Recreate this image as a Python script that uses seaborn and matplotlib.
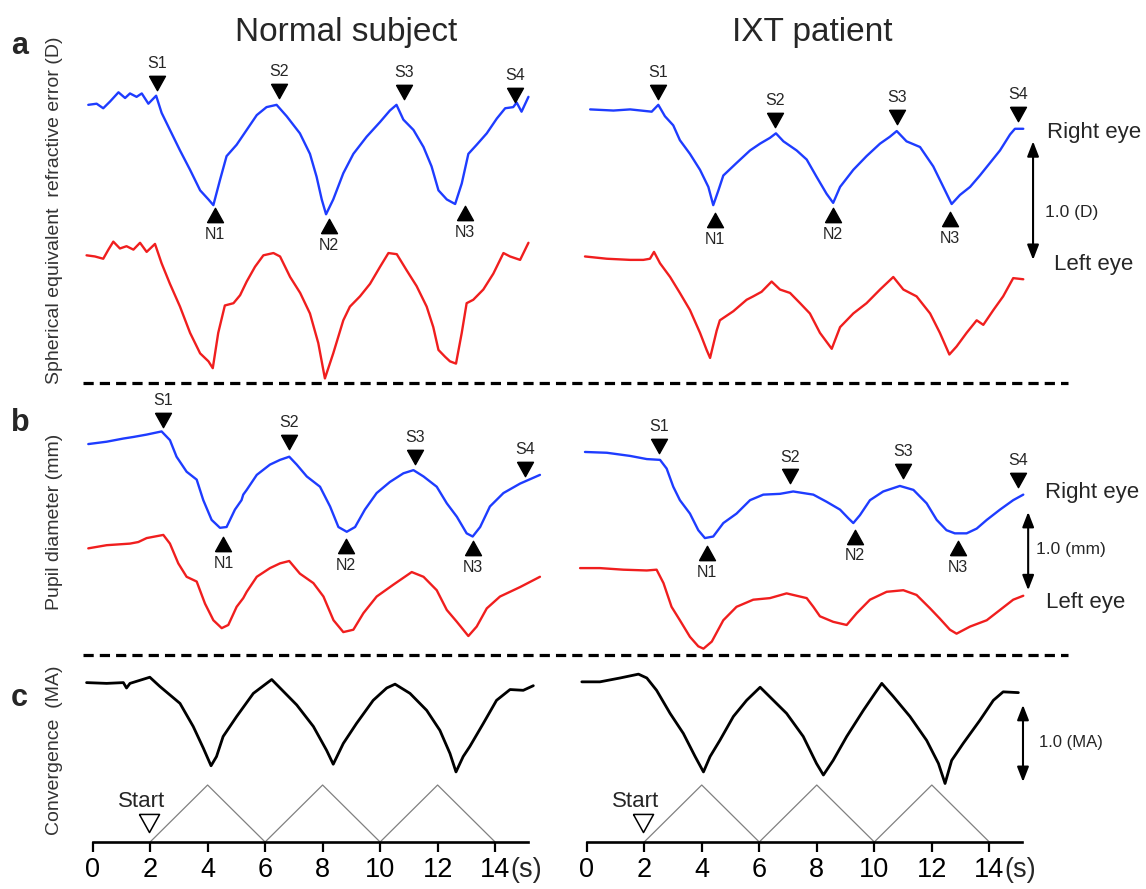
import matplotlib
matplotlib.use("Agg")
import matplotlib.pyplot as plt
import seaborn as sns
from matplotlib.lines import Line2D

# ---------------- data (time in s, values in D / mm / MA) ----------------
# Panel a: spherical equivalent refractive error (D)
a_nor_R_t = [-0.15, 0.14, 0.37, 0.61, 0.90, 1.13, 1.30, 1.53, 1.71, 1.94, 2.21, 2.40, 2.69, 3.04, 3.39,
             3.74, 4.03, 4.20, 4.43, 4.66, 5.01, 5.36, 5.71, 6.05, 6.40, 6.75, 7.21, 7.56, 7.79, 7.97,
             8.12, 8.37, 8.72, 9.07, 9.53, 10.0, 10.34, 10.57, 10.81, 11.16, 11.51, 11.79, 12.03, 12.32, 12.61,
             12.84, 13.07, 13.36, 13.71, 14.06, 14.35, 14.63, 14.75, 14.92, 15.16]
a_nor_R_v = [2.44, 2.45, 2.41, 2.47, 2.55, 2.50, 2.54, 2.51, 2.54, 2.45, 2.52, 2.37, 2.22, 2.04, 1.87,
             1.69, 1.61, 1.56, 1.78, 1.99, 2.09, 2.22, 2.35, 2.42, 2.44, 2.34, 2.19, 2.01, 1.81, 1.61,
             1.48, 1.61, 1.84, 2.01, 2.16, 2.29, 2.39, 2.44, 2.31, 2.22, 2.07, 1.90, 1.69, 1.61, 1.57,
             1.75, 2.01, 2.09, 2.19, 2.32, 2.41, 2.42, 2.46, 2.38, 2.51]
a_nor_L_t = [-0.21, 0.08, 0.37, 0.55, 0.72, 0.95, 1.18, 1.42, 1.65, 1.88, 2.17, 2.40, 2.69, 3.04, 3.39,
             3.74, 4.03, 4.18, 4.37, 4.60, 4.90, 5.13, 5.36, 5.65, 5.94, 6.29, 6.52, 6.87, 7.22, 7.56,
             7.85, 8.08, 8.37, 8.72, 8.95, 9.30, 9.65, 10.0, 10.29, 10.58, 10.92, 11.27, 11.62, 11.85, 12.03,
             12.26, 12.43, 12.64, 12.84, 13.01, 13.24, 13.59, 13.94, 14.29, 14.52, 14.87, 15.16]
a_nor_L_v = [1.12, 1.11, 1.09, 1.17, 1.24, 1.18, 1.20, 1.17, 1.23, 1.15, 1.22, 1.05, 0.87, 0.67, 0.44,
             0.26, 0.19, 0.13, 0.44, 0.68, 0.70, 0.77, 0.89, 1.02, 1.12, 1.14, 1.11, 0.93, 0.79, 0.61,
             0.35, 0.04, 0.26, 0.55, 0.67, 0.76, 0.87, 1.02, 1.14, 1.13, 0.99, 0.85, 0.67, 0.49, 0.29,
             0.23, 0.19, 0.17, 0.44, 0.70, 0.73, 0.82, 0.96, 1.14, 1.11, 1.08, 1.23]
a_ixt_R_t = [0.12, 0.93, 1.51, 2.26, 2.49, 2.72, 3.01, 3.24, 3.59, 3.94, 4.23, 4.40, 4.58, 4.75, 5.21,
             5.68, 6.03, 6.37, 6.58, 6.84, 7.30, 7.65, 7.99, 8.34, 8.57, 8.81, 9.27, 9.73, 10.20, 10.54,
             10.78, 11.12, 11.59, 12.05, 12.40, 12.69, 12.98, 13.33, 13.67, 14.02, 14.37, 14.72, 14.89, 15.18]
a_ixt_R_v = [2.40, 2.39, 2.40, 2.38, 2.44, 2.34, 2.26, 2.13, 2.01, 1.87, 1.72, 1.56, 1.69, 1.82, 1.93,
             2.04, 2.10, 2.15, 2.19, 2.12, 2.04, 1.96, 1.81, 1.66, 1.58, 1.72, 1.87, 1.99, 2.10, 2.16,
             2.21, 2.12, 2.07, 1.90, 1.72, 1.57, 1.65, 1.72, 1.82, 1.93, 2.04, 2.18, 2.23, 2.23]
a_ixt_L_t = [-0.06, 0.70, 1.51, 1.97, 2.20, 2.34, 2.55, 2.90, 3.24, 3.59, 3.94, 4.17, 4.29, 4.52, 4.63,
             5.10, 5.56, 5.79, 6.08, 6.43, 6.72, 7.07, 7.42, 7.76, 8.11, 8.52, 8.81, 9.27, 9.73, 10.20,
             10.66, 11.01, 11.47, 11.94, 12.28, 12.61, 12.86, 13.21, 13.56, 13.79, 14.14, 14.48, 14.83, 15.18]
a_ixt_L_v = [1.11, 1.09, 1.08, 1.08, 1.09, 1.15, 1.05, 0.93, 0.79, 0.64, 0.44, 0.29, 0.22, 0.46, 0.55,
             0.63, 0.73, 0.76, 0.80, 0.89, 0.82, 0.79, 0.70, 0.61, 0.44, 0.30, 0.49, 0.61, 0.70, 0.82,
             0.93, 0.82, 0.76, 0.61, 0.44, 0.25, 0.32, 0.44, 0.55, 0.51, 0.64, 0.76, 0.92, 0.91]

# Panel b: pupil diameter (mm)
b_nor_R_t = [-0.15, 0.49, 1.07, 1.42, 1.88, 2.40, 2.69, 2.92, 3.27, 3.62, 3.85, 4.14, 4.43, 4.66, 4.95,
             5.18, 5.24, 5.36, 5.71, 6.17, 6.52, 6.84, 7.10, 7.45, 7.91, 8.26, 8.55, 8.84, 9.13, 9.47,
             9.88, 10.34, 10.81, 11.16, 11.51, 11.97, 12.32, 12.67, 13.01, 13.22, 13.48, 13.82, 14.29, 14.87, 15.56]
b_nor_R_v = [2.67, 2.70, 2.74, 2.76, 2.79, 2.83, 2.72, 2.51, 2.32, 2.22, 1.96, 1.71, 1.61, 1.62, 1.84,
             1.96, 2.03, 2.09, 2.28, 2.41, 2.47, 2.51, 2.41, 2.26, 2.13, 1.88, 1.62, 1.56, 1.62, 1.84,
             2.05, 2.19, 2.30, 2.34, 2.26, 2.13, 1.92, 1.75, 1.54, 1.50, 1.62, 1.88, 2.05, 2.17, 2.28]
b_nor_L_t = [-0.15, 0.49, 1.30, 1.59, 1.88, 2.46, 2.69, 2.98, 3.27, 3.62, 3.91, 4.20, 4.49, 4.72, 5.01,
             5.24, 5.36, 5.71, 6.17, 6.52, 6.84, 7.21, 7.68, 8.03, 8.38, 8.72, 9.07, 9.42, 9.88, 10.46,
             11.10, 11.51, 11.97, 12.32, 12.67, 13.07, 13.36, 13.71, 14.17, 14.87, 15.56]
b_nor_L_v = [1.35, 1.39, 1.41, 1.43, 1.48, 1.52, 1.41, 1.16, 0.99, 0.93, 0.65, 0.44, 0.34, 0.38, 0.61,
             0.72, 0.80, 0.99, 1.10, 1.16, 1.19, 1.03, 0.91, 0.74, 0.44, 0.29, 0.32, 0.53, 0.74, 0.89,
             1.05, 0.99, 0.82, 0.57, 0.42, 0.24, 0.36, 0.59, 0.74, 0.86, 0.99]
b_ixt_R_t = [-0.06, 0.70, 1.51, 2.09, 2.55, 2.78, 3.01, 3.24, 3.59, 3.88, 4.11, 4.40, 4.75, 5.21, 5.68,
             6.14, 6.72, 7.18, 7.88, 8.34, 8.81, 9.10, 9.27, 9.50, 9.85, 10.31, 10.89, 11.36, 11.82, 12.17,
             12.51, 12.80, 13.21, 13.56, 13.91, 14.37, 14.83, 15.18]
b_ixt_R_v = [2.57, 2.56, 2.52, 2.48, 2.47, 2.36, 2.13, 1.96, 1.79, 1.58, 1.48, 1.50, 1.67, 1.79, 1.96,
             2.03, 2.04, 2.07, 2.03, 1.94, 1.84, 1.73, 1.67, 1.77, 1.96, 2.07, 2.14, 2.09, 1.92, 1.71,
             1.58, 1.54, 1.54, 1.60, 1.71, 1.84, 1.96, 2.03]
b_ixt_L_t = [-0.23, 0.46, 1.27, 2.09, 2.43, 2.67, 2.95, 3.24, 3.59, 3.88, 4.06, 4.35, 4.75, 5.21, 5.79,
             6.37, 6.95, 7.65, 7.88, 8.11, 8.57, 9.04, 9.39, 9.85, 10.43, 11.01, 11.47, 11.94, 12.28, 12.63,
             12.86, 13.33, 13.91, 14.37, 14.83, 15.18]
b_ixt_L_v = [1.10, 1.10, 1.08, 1.07, 1.08, 0.91, 0.61, 0.44, 0.23, 0.11, 0.08, 0.17, 0.44, 0.61, 0.70,
             0.72, 0.78, 0.72, 0.61, 0.49, 0.42, 0.38, 0.53, 0.70, 0.80, 0.82, 0.76, 0.59, 0.46, 0.32,
             0.27, 0.36, 0.44, 0.57, 0.70, 0.75]

# Panel c: convergence (MA) and stimulus
c_nor_t = [-0.21, 0.49, 1.07, 1.18, 1.30, 1.99, 2.34, 3.04, 3.50, 3.85, 4.12, 4.31, 4.54, 5.01, 5.59,
           6.05, 6.23, 6.52, 7.10, 7.68, 8.14, 8.37, 8.72, 9.18, 9.76, 10.23, 10.52, 11.04, 11.62, 12.08,
           12.43, 12.64, 12.89, 13.12, 13.59, 14.05, 14.52, 14.98, 15.33]
c_nor_v = [2.07, 2.06, 2.07, 2.00, 2.06, 2.14, 2.02, 1.80, 1.50, 1.22, 0.99, 1.11, 1.37, 1.63, 1.93,
           2.06, 2.11, 2.00, 1.78, 1.50, 1.19, 1.01, 1.28, 1.54, 1.84, 2.00, 2.05, 1.93, 1.71, 1.45,
           1.15, 0.91, 1.11, 1.24, 1.54, 1.84, 1.98, 1.97, 2.03]
c_ixt_t = [-0.17, 0.46, 1.16, 1.80, 2.09, 2.43, 2.90, 3.36, 3.77, 4.06, 4.29, 4.63, 5.10, 5.56, 6.03,
           6.49, 6.95, 7.53, 7.99, 8.23, 8.57, 9.04, 9.62, 10.02, 10.26, 10.66, 11.24, 11.82, 12.23, 12.46,
           12.69, 13.09, 13.67, 14.14, 14.48, 15.01]
c_ixt_v = [2.08, 2.08, 2.13, 2.18, 2.13, 1.97, 1.67, 1.41, 1.11, 0.91, 1.11, 1.32, 1.63, 1.84, 2.01,
           1.84, 1.67, 1.37, 1.02, 0.87, 1.06, 1.37, 1.71, 1.93, 2.06, 1.89, 1.63, 1.32, 1.02, 0.76,
           1.06, 1.28, 1.58, 1.84, 1.95, 1.94]
stim_t = [2, 4, 6, 8, 10, 12, 14]
stim_v = [0, 0.74, 0, 0.74, 0, 0.74, 0]

# S (peak) / N (trough) markers
S_labels = ["S1", "S2", "S3", "S4"]
N_labels = ["N1", "N2", "N3"]
a_nor_S_t = [2.23, 6.49, 10.83, 14.69]; a_nor_S_v = [2.63, 2.56, 2.55, 2.53]
a_nor_N_t = [4.26, 8.23, 12.95];        a_nor_N_v = [1.47, 1.38, 1.49]
a_ixt_S_t = [2.49, 6.55, 10.78, 15.01]; a_ixt_S_v = [2.55, 2.31, 2.33, 2.36]
a_ixt_N_t = [4.46, 8.57, 12.63];        a_ixt_N_v = [1.43, 1.47, 1.44]
b_nor_S_t = [2.44, 6.84, 11.21, 15.04]; b_nor_S_v = [2.98, 2.70, 2.51, 2.36]
b_nor_N_t = [4.55, 8.80, 13.24];        b_nor_N_v = [1.41, 1.38, 1.35]
b_ixt_S_t = [2.53, 7.07, 11.01, 15.01]; b_ixt_S_v = [2.64, 2.26, 2.33, 2.22]
b_ixt_N_t = [4.17, 9.33, 12.92];        b_ixt_N_v = [1.29, 1.50, 1.35]

x_ticks = [0, 2, 4, 6, 8, 10, 12, 14]
start_t = 2.0

# ---------------- style ----------------
sns.set_theme(style="white")
plt.rcParams["font.family"] = ["Liberation Sans", "DejaVu Sans"]

BLUE = "#1e3cff"
RED = "#f01e1e"

W, H = 1146, 889
fig = plt.figure(figsize=(W / 100, H / 100), dpi=100)

L0, LPPS = 92.6, 28.75     # pixel of t=0 and pixels per second, left column
R0, RPPS = 586.7, 28.76    # right column


def make_ax(px_x0, px_x1, px_y0, px_y1):
    ax = fig.add_axes([px_x0 / W, 1 - px_y1 / H, (px_x1 - px_x0) / W, (px_y1 - px_y0) / H])
    ax.set_facecolor("none")
    return ax


def finish(ax, px_x0, px_x1, px_y0, px_y1, t0, pps, ppu):
    ax.set_xlim((px_x0 - t0) / pps, (px_x1 - t0) / pps)
    ax.set_ylim(0, (px_y1 - px_y0) / ppu)
    for s in ax.spines.values():
        s.set_visible(False)
    ax.set_xticks([])
    ax.set_yticks([])
    ax.set_xlabel("")
    ax.set_ylabel("")


def trace(ax, t, v, color, lw):
    sns.lineplot(x=t, y=v, ax=ax, color=color, linewidth=lw, sort=False,
                 estimator=None, legend=False)
    ax.lines[-1].set_clip_on(False)
    ax.lines[-1].set_solid_joinstyle("round")


TRI_DOWN = [(-1, 0.9), (1, 0.9), (0, -0.9), (-1, 0.9)]
TRI_UP = [(-1, -0.9), (1, -0.9), (0, 0.9), (-1, -0.9)]


def marks(ax, St, Sv, Nt, Nv):
    ax.plot(St, Sv, linestyle="none", marker=TRI_DOWN, markersize=11.5, color="black", clip_on=False)
    ax.plot(Nt, Nv, linestyle="none", marker=TRI_UP, markersize=11.5, color="black", clip_on=False)
    for lbl, t, v in zip(S_labels, St, Sv):
        ax.annotate(lbl, (t, v), xytext=(0, 14), textcoords="offset points",
                    ha="center", va="center", fontsize=11.5)
    for lbl, t, v in zip(N_labels, Nt, Nv):
        ax.annotate(lbl, (t, v), xytext=(0, -14), textcoords="offset points",
                    ha="center", va="center", fontsize=11.5)


def scalebar(ax, t, v0, v1):
    ax.annotate("", xy=(t, v1), xytext=(t, v0),
                arrowprops=dict(arrowstyle="<|-|>,head_length=0.9,head_width=0.35",
                                mutation_scale=10, lw=1.5, color="black",
                                shrinkA=0, shrinkB=0))


LX = (80, 560)
RX = (575, 1146)
ROW_A = (40, 383, 114.0)
ROW_B = (390, 655, 79.0)
ROW_C = (660, 842, 77.0)

# ---- row a ----
ax = make_ax(LX[0], LX[1], ROW_A[0], ROW_A[1])
trace(ax, a_nor_R_t, a_nor_R_v, BLUE, 1.7)
trace(ax, a_nor_L_t, a_nor_L_v, RED, 1.7)
marks(ax, a_nor_S_t, a_nor_S_v, a_nor_N_t, a_nor_N_v)
finish(ax, LX[0], LX[1], ROW_A[0], ROW_A[1], L0, LPPS, ROW_A[2])

ax = make_ax(RX[0], RX[1], ROW_A[0], ROW_A[1])
trace(ax, a_ixt_R_t, a_ixt_R_v, BLUE, 1.7)
trace(ax, a_ixt_L_t, a_ixt_L_v, RED, 1.7)
marks(ax, a_ixt_S_t, a_ixt_S_v, a_ixt_N_t, a_ixt_N_v)
scalebar(ax, 15.52, 1.08, 2.12)
ax.text(16.02, 2.20, "Right eye", ha="left", va="center", fontsize=16)
ax.text(15.93, 1.50, "1.0 (D)", ha="left", va="center", fontsize=12.5)
ax.text(16.25, 1.04, "Left eye", ha="left", va="center", fontsize=16)
finish(ax, RX[0], RX[1], ROW_A[0], ROW_A[1], R0, RPPS, ROW_A[2])

# ---- row b ----
ax = make_ax(LX[0], LX[1], ROW_B[0], ROW_B[1])
trace(ax, b_nor_R_t, b_nor_R_v, BLUE, 1.7)
trace(ax, b_nor_L_t, b_nor_L_v, RED, 1.7)
marks(ax, b_nor_S_t, b_nor_S_v, b_nor_N_t, b_nor_N_v)
finish(ax, LX[0], LX[1], ROW_B[0], ROW_B[1], L0, LPPS, ROW_B[2])

ax = make_ax(RX[0], RX[1], ROW_B[0], ROW_B[1])
trace(ax, b_ixt_R_t, b_ixt_R_v, BLUE, 1.7)
trace(ax, b_ixt_L_t, b_ixt_L_v, RED, 1.7)
marks(ax, b_ixt_S_t, b_ixt_S_v, b_ixt_N_t, b_ixt_N_v)
scalebar(ax, 15.35, 0.82, 1.81)
ax.text(15.92, 2.06, "Right eye", ha="left", va="center", fontsize=16)
ax.text(15.62, 1.34, "1.0 (mm)", ha="left", va="center", fontsize=12.5)
ax.text(15.98, 0.67, "Left eye", ha="left", va="center", fontsize=16)
finish(ax, RX[0], RX[1], ROW_B[0], ROW_B[1], R0, RPPS, ROW_B[2])

# ---- row c ----
for (px0, px1, t0, pps, ct, cv, bound, st_text_t) in [
        (LX[0], LX[1], L0, LPPS, c_nor_t, c_nor_v, 15.15, 1.69),
        (RX[0], RX[1], R0, RPPS, c_ixt_t, c_ixt_v, 15.12, 1.70)]:
    ax = make_ax(px0, px1, ROW_C[0], ROW_C[1])
    trace(ax, ct, cv, "black", 2.0)
    trace(ax, stim_t, stim_v, "#808080", 0.9)
    ax.plot([start_t - 0.03], [0.25], linestyle="none", marker=TRI_DOWN, markersize=14.5,
            markerfacecolor="white", markeredgecolor="black", markeredgewidth=1.1, clip_on=False)
    ax.text(st_text_t, 0.52, "Start", ha="center", va="center", fontsize=16)
    finish(ax, px0, px1, ROW_C[0], ROW_C[1], t0, pps, ROW_C[2])
    ax.spines["bottom"].set_visible(True)
    ax.spines["bottom"].set_color("black")
    ax.spines["bottom"].set_linewidth(1.9)
    ax.spines["bottom"].set_bounds(0, bound)
    ax.set_xticks(x_ticks)
    ax.set_xticklabels([str(x) for x in x_ticks])
    ax.tick_params(axis="x", direction="out", length=7.5, width=1.6, pad=3.5,
                   labelsize=19.5, colors="black", bottom=True)
    ax.text(14.52, -0.37, "(s)", ha="left", va="center", fontsize=19.5)
    if px0 == RX[0]:
        scalebar(ax, 15.17, 0.78, 1.78)
        ax.text(15.72, 1.29, "1.0 (MA)", ha="left", va="center", fontsize=12)

# ---- decorations ----
for y in (383, 655):
    fig.add_artist(Line2D([83 / W, 1068 / W], [1 - y / H, 1 - y / H], color="black",
                          lw=2.3, linestyle=(0, (3.2, 1.9))))

fig.text(346 / W, 1 - 41 / H, "Normal subject", ha="center", va="baseline", fontsize=24)
fig.text(812 / W, 1 - 41 / H, "IXT patient", ha="center", va="baseline", fontsize=24)

fig.text(11 / W, 1 - 54 / H, "a", ha="left", va="baseline", fontsize=22, fontweight="bold")
fig.text(11 / W, 1 - 431 / H, "b", ha="left", va="baseline", fontsize=22, fontweight="bold")
fig.text(11 / W, 1 - 706 / H, "c", ha="left", va="baseline", fontsize=22, fontweight="bold")

fig.text(55 / W, 1 - 210 / H, "Spherical equivalent  refractive error (D)", rotation=90,
         ha="center", va="center", fontsize=14, color="#333333")
fig.text(55 / W, 1 - 522 / H, "Pupil diameter (mm)", rotation=90,
         ha="center", va="center", fontsize=14, color="#333333")
fig.text(55 / W, 1 - 750 / H, "Convergence  (MA)", rotation=90,
         ha="center", va="center", fontsize=14, color="#333333")

fig.savefig("out.png", dpi=100, facecolor="white")
